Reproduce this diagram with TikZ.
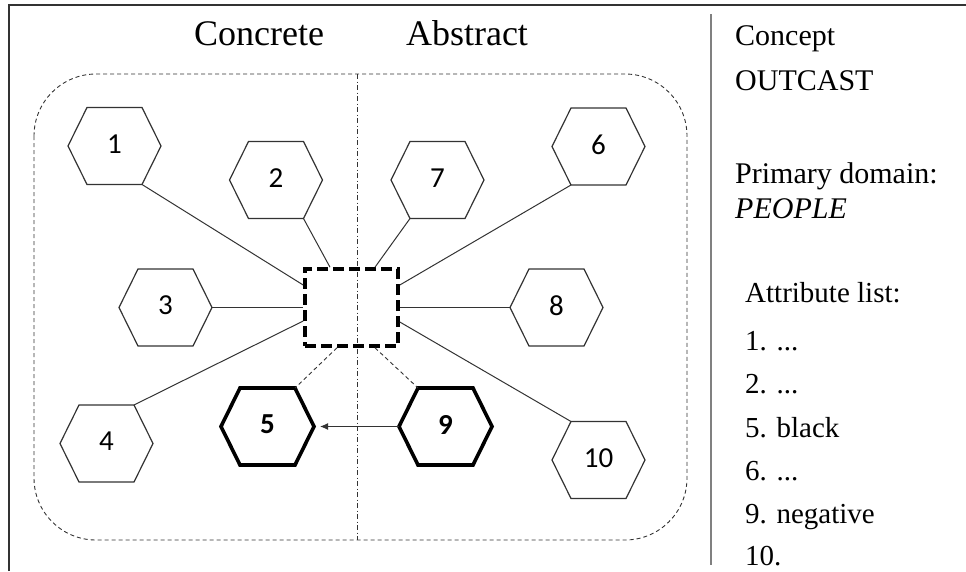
\documentclass[tikz,border=0pt]{standalone}
\usepackage{fontspec}
\setmainfont{Liberation Serif}
\newfontfamily\hexfont{Carlito}
\usetikzlibrary{arrows.meta,calc}
\definecolor{ln}{HTML}{333333}
\tikzset{
  hexbox/.style={minimum width=93pt,minimum height=77pt,inner sep=0pt,outer sep=0pt,font=\hexfont\fontsize{29}{29}\selectfont},
  hexline/.style={draw=ln,line width=1.2pt,line join=miter},
  hexthick/.style={draw=black,line width=3.6pt,line join=miter},
  conn/.style={draw=ln,line width=1pt},
  thindash/.style={draw=ln,line width=0.9pt,dash pattern=on 4pt off 3pt},
  topfont/.style={font=\fontsize{36}{36}\selectfont},
  sidefont/.style={font=\fontsize{30}{30}\selectfont,anchor=base west,inner sep=0pt},
  listfont/.style={font=\fontsize{29}{29}\selectfont,anchor=base west,inner sep=0pt},
}
\newcommand{\hexa}[4]{%
  \node[hexbox] (#1) at (#2) {\raisebox{4pt}{#3}};
  \coordinate (#1-tl) at ([xshift=19pt]#1.north west);
  \coordinate (#1-tr) at ([xshift=-19pt]#1.north east);
  \coordinate (#1-bl) at ([xshift=19pt]#1.south west);
  \coordinate (#1-br) at ([xshift=-19pt]#1.south east);
  \draw[#4] (#1.west) -- (#1-tl) -- (#1-tr) -- (#1.east) -- (#1-br) -- (#1-bl) -- cycle;
}
\begin{document}
\begin{tikzpicture}[x=1pt,y=-1pt]
\useasboundingbox (0,0) rectangle (966,571);
% frame
\draw[line width=2pt,draw=ln] (9,571) -- (9,5) -- (966,5);
\draw[line width=1.5pt,draw=gray] (711,14) -- (711,565);
% region
\draw[thindash,rounded corners=62pt] (34,74) rectangle (687,540);
\draw[draw=ln,line width=0.8pt,dash pattern=on 5pt off 2.5pt on 1pt off 2.5pt] (357,74) -- (357,540);
% titles
\node[topfont,anchor=base] (tc) at (259,45) {Concrete};
\node[topfont,anchor=base] (ta) at (467,45) {Abstract};
% central box
\node[draw=black,line width=3.6pt,dash pattern=on 11pt off 5pt,minimum width=93pt,minimum height=77pt,inner sep=0pt] (c) at (351.5,307.5) {};
% hexagons
\hexa{h1}{114.5,146}{1}{hexline}
\hexa{h2}{276,180}{2}{hexline}
\hexa{h3}{165.5,307.5}{3}{hexline}
\hexa{h4}{106.5,443.5}{4}{hexline}
\hexa{h5}{267.5,426.5}{\textbf{5}}{hexthick}
\hexa{h6}{598.5,146.5}{6}{hexline}
\hexa{h7}{437.5,180}{7}{hexline}
\hexa{h8}{556.5,307.5}{8}{hexline}
\hexa{h9}{445.5,426.5}{\textbf{9}}{hexthick}
\hexa{h10}{598.5,460}{10}{hexline}
% box attachment points
\coordinate (c1) at ([yshift=22.5pt]c.west);
\coordinate (c4) at ([yshift=-13.5pt]c.west);
\coordinate (c2) at ([xshift=-21.5pt]c.north);
\coordinate (c7) at ([xshift=23.5pt]c.north);
\coordinate (c6) at ([yshift=22.5pt]c.east);
\coordinate (c10) at ([yshift=-14.5pt]c.east);
\coordinate (c5) at ([xshift=-14.5pt]c.south);
\coordinate (c9) at ([xshift=23.5pt]c.south);
% connectors
\draw[conn] (h1-br) -- (c1);
\draw[conn] (h2-br) -- (c2);
\draw[conn] (h3.east) -- (c.west);
\draw[conn] (h4-tr) -- (c4);
\draw[conn] (h7-bl) -- (c7);
\draw[conn] (h6-bl) -- (c6);
\draw[conn] (c.east) -- (h8.west);
\draw[conn] (c10) -- (h10-tl);
\draw[thindash] (c5) -- (h5-tr);
\draw[thindash] (c9) -- (h9-tl);
\draw[conn,-{Latex[length=8pt,width=7pt]},shorten >=6pt] (h9.west) -- (h5.east);
% side text
\node[sidefont] (s1) at (735,45) {Concept};
\node[sidefont] (s2) at (735,90) {OUTCAST};
\node[sidefont] (s3) at (735,183) {Primary domain:};
\node[sidefont] (s4) at (735,218) {\textit{PEOPLE}};
\node[listfont] (s5) at (745,302) {Attribute list:};
\node[listfont] (s6) at (745,350) {1. ...};
\node[listfont] (s7) at (745,393) {2. ...};
\node[listfont] (s8) at (745,437) {5. black};
\node[listfont] (s9) at (745,480) {6. ...};
\node[listfont] (s10) at (745,523) {9. negative};
\node[listfont] (s11) at (745,565) {10.};
\end{tikzpicture}
\end{document}
